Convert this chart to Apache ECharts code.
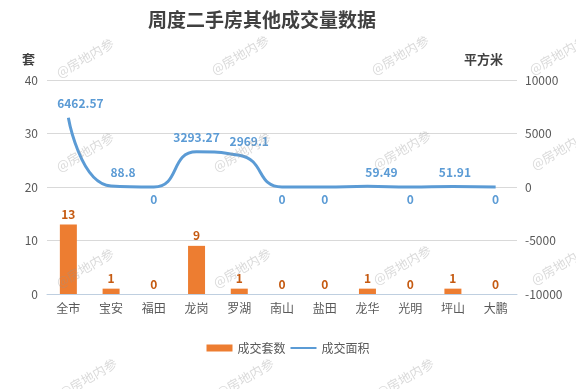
<!DOCTYPE html>
<html><head><meta charset="utf-8">
<script src="https://cdn.jsdelivr.net/npm/echarts@6/dist/echarts.min.js"></script>
<style>html,body{margin:0;padding:0;background:#fff}#c{width:576px;height:389px}</style>
</head><body><div id="c"></div>
<script>
const categories = ['全市','宝安','福田','龙岗','罗湖','南山','盐田','龙华','光明','坪山','大鹏'];
const countValues = [13,1,0,9,1,0,0,1,0,1,0];
const areaValues = [6462.57,88.8,0,3293.27,2969.1,0,0,59.49,0,51.91,0];
const leftTicks = {min:0,max:40,interval:10};
const rightTicks = {min:-10000,max:10000,interval:5000};
const seriesNames = ['成交套数','成交面积'];

const font = '"Microsoft YaHei","Noto Sans CJK SC",sans-serif';
const chart = echarts.init(document.getElementById('c'));

const wmPos = [[85,58],[240,55],[400,55],[558,55],[85,152],[242,152],[402,150],[560,150],[85,268],[242,268],[402,265],[560,265],[88,378],[245,378],[405,378]];
const watermarks = wmPos.map(p => ({
  type:'text', x:p[0], y:p[1], rotation:Math.PI/6, z:100,
  style:{text:'@房地内参', font:'13px '+font, fill:'rgba(150,150,150,0.35)', align:'center', verticalAlign:'middle'}
}));
// label horizontal nudges (style only)
const labelShift = [12,12,0,0,10,0,0,14,0,2,0];

chart.setOption({
  animation:false,
  title:{text:'周度二手房其他成交量数据', left:143, top:5,
    textStyle:{fontSize:19,fontWeight:'bold',color:'#404040',fontFamily:font}},
  grid:{left:47,right:59,top:80,bottom:95},
  legend:{bottom:30,left:'center',itemWidth:26,itemHeight:7,itemGap:4,
    textStyle:{fontSize:12,color:'#595959',fontFamily:font},
    data:[{name:seriesNames[0],icon:'rect'},{name:seriesNames[1],itemStyle:{opacity:0}}]},
  xAxis:{type:'category',data:categories,
    axisLine:{lineStyle:{color:'#BFCFE0',width:1}},axisTick:{show:false},
    axisLabel:{fontSize:12,color:'#595959',fontFamily:font,margin:8}},
  yAxis:[
    {type:'value',min:leftTicks.min,max:leftTicks.max,interval:leftTicks.interval,
     name:'套',nameLocation:'end',nameGap:14,
     nameTextStyle:{fontSize:13,fontWeight:'bold',color:'#404040',fontFamily:font,align:'right',padding:[0,12,0,0]},
     axisLine:{show:false},axisTick:{show:false},
     axisLabel:{fontSize:12,color:'#595959',fontFamily:font,margin:9},
     splitLine:{lineStyle:{color:'#D9D9D9'}}},
    {type:'value',min:rightTicks.min,max:rightTicks.max,interval:rightTicks.interval,
     name:'平方米',nameLocation:'end',nameGap:14,
     nameTextStyle:{fontSize:13,fontWeight:'bold',color:'#404040',fontFamily:font,align:'right',padding:[0,14,0,0]},
     axisLine:{show:false},axisTick:{show:false},
     axisLabel:{fontSize:12,color:'#595959',fontFamily:font,margin:8,formatter:v=>String(v)},
     splitLine:{show:false}}
  ],
  series:[
    {name:seriesNames[0],type:'bar',data:countValues,barWidth:17,yAxisIndex:0,
     itemStyle:{color:'#ED7D31'},
     label:{show:true,position:'top',fontSize:12,fontWeight:'bold',color:'#C55A11',fontFamily:font,distance:4}},
    {name:seriesNames[1],type:'line',yAxisIndex:1,smooth:0.55,symbol:'circle',symbolSize:0.1,showSymbol:true,
     data:areaValues.map((v,i) => ({value:v,label:{position: v===0?'bottom':'top', offset:[labelShift[i], v===0?-2:0]}})),
     lineStyle:{color:'#5B9BD5',width:3},itemStyle:{color:'#5B9BD5'},
     label:{show:true,fontSize:12,fontWeight:'bold',color:'#5B9BD5',fontFamily:font,distance:8}}
  ],
  graphic:watermarks
});
</script></body></html>
